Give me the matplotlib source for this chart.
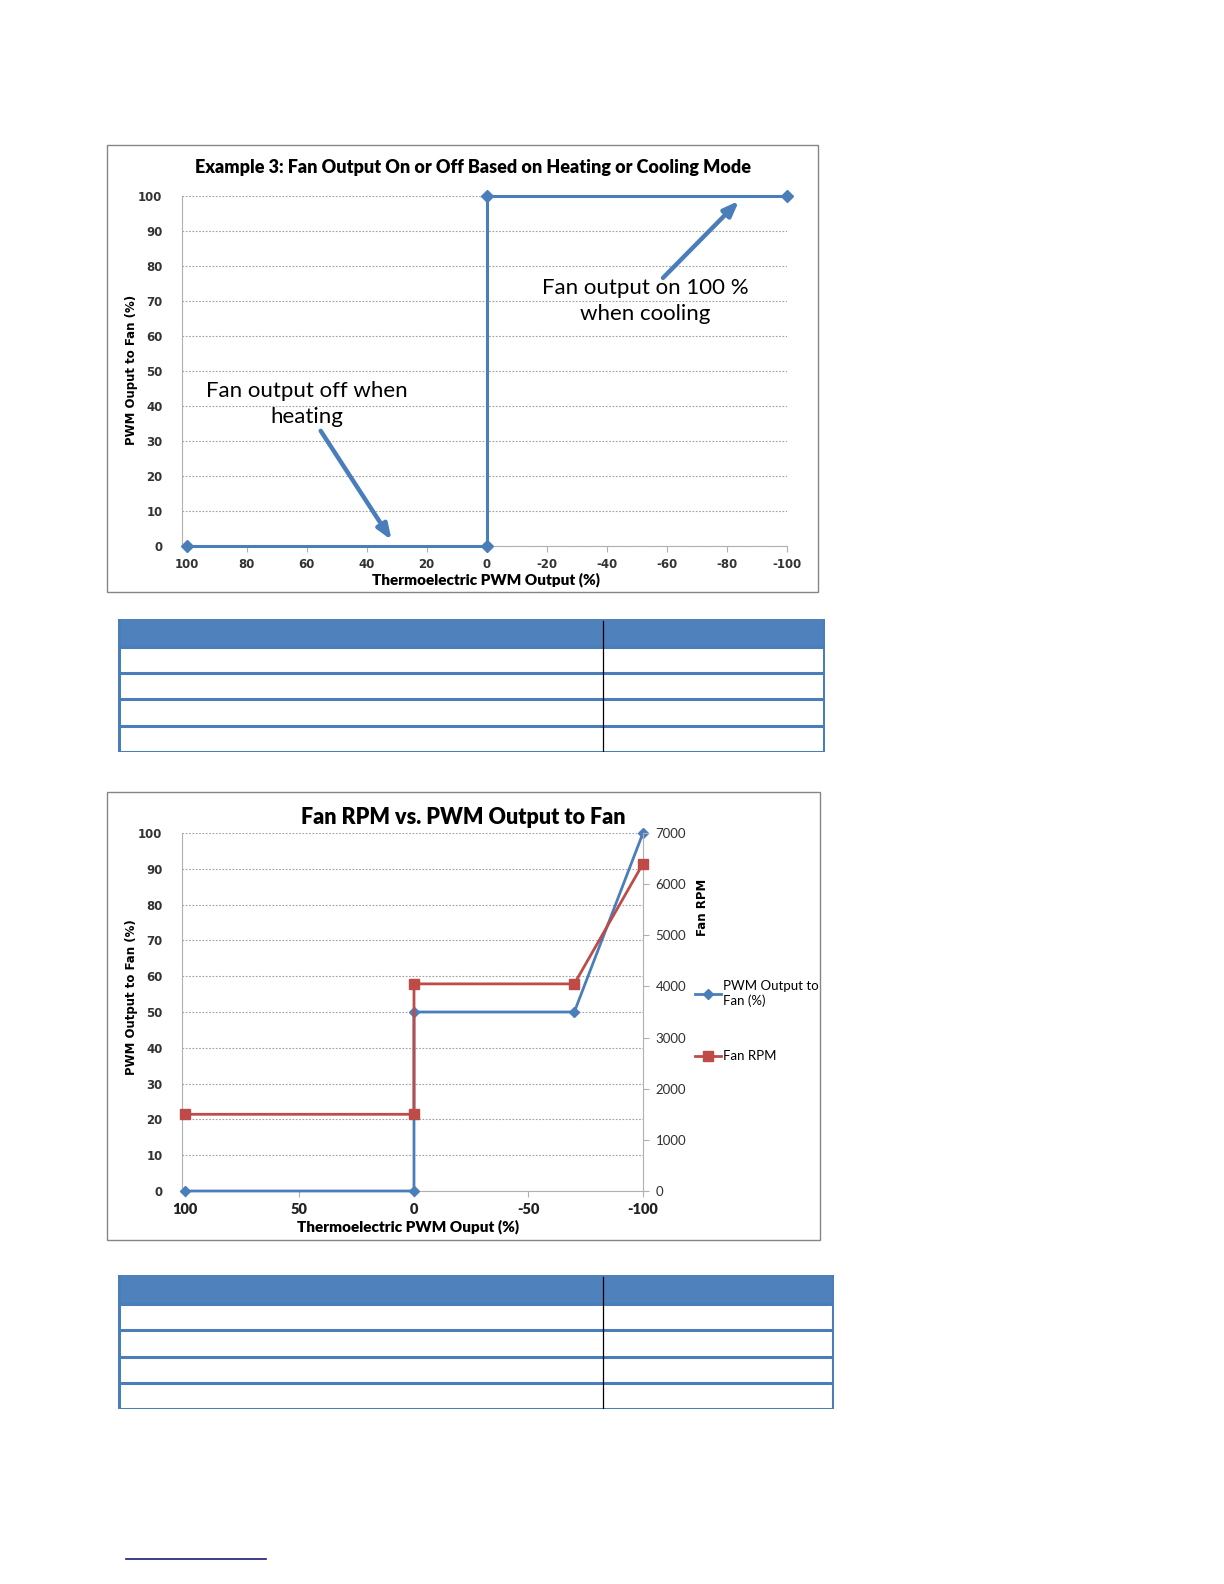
import matplotlib.pyplot as plt
from matplotlib.patches import Rectangle
from matplotlib.font_manager import FontProperties

# Chart 1 data: fan output on/off by mode
te_out_1 = [100, 0, 0, -100]
fan_pwm_1 = [0, 0, 100, 100]
x_ticks_1 = [100, 80, 60, 40, 20, 0, -20, -40, -60, -80, -100]
y_ticks_1 = [0, 10, 20, 30, 40, 50, 60, 70, 80, 90, 100]

# Chart 2 data: fan RPM vs PWM output
te_out_2 = [100, 0, 0, -70, -100]
fan_pwm_2 = [0, 0, 50, 50, 100]
fan_rpm_2 = [1500, 1500, 4050, 4050, 6400]
x_ticks_2 = [100, 50, 0, -50, -100]
rpm_ticks = [0, 1000, 2000, 3000, 4000, 5000, 6000, 7000]

# empty tables under each chart (header + rows)
table_rows = 4

plt.rcParams['axes.unicode_minus'] = False

W, H = 1224, 1584
BLUE = '#4A7EBB'
RED = '#BE4B48'
CAL = ['Lato', 'DejaVu Sans']
VER = ['DejaVu Sans']

fig = plt.figure(figsize=(W / 100, H / 100), dpi=100)


def fbox(x0, y0, x1, y1):
    # pixel box (top-left origin) -> figure fraction rect
    return [x0 / W, 1 - y1 / H, (x1 - x0) / W, (y1 - y0) / H]


def frame(x0, y0, x1, y1):
    r = Rectangle((x0 / W, 1 - y1 / H), (x1 - x0) / W, (y1 - y0) / H,
                  transform=fig.transFigure, fill=False, edgecolor='#868686', lw=1.0)
    fig.add_artist(r)


def style_axes(ax):
    for s in ['top', 'right']:
        ax.spines[s].set_visible(False)
    ax.spines['left'].set_color('#B0B0B0')
    ax.spines['bottom'].set_color('#B0B0B0')
    ax.grid(axis='y', color='#A0A0A0', linestyle=(0, (1.5, 1.5)), linewidth=0.8)
    ax.set_axisbelow(True)


# ---------------- chart 1 ----------------
frame(107, 145, 818, 592)
ax1 = fig.add_axes(fbox(182, 196, 787, 546))
ax1.plot(te_out_1, fan_pwm_1, color=BLUE, lw=2.2, marker='D', ms=6.5, clip_on=False, zorder=3)
ax1.set_xlim(101.5, -100)
ax1.set_ylim(0, 100)
fp1 = FontProperties(family=VER, weight='bold', size=8.5)
ax1.set_xticks(x_ticks_1, labels=[str(t) for t in x_ticks_1], fontproperties=fp1, color='#333333')
ax1.set_yticks(y_ticks_1, labels=[str(t) for t in y_ticks_1], fontproperties=fp1, color='#333333')
style_axes(ax1)
ax1.tick_params(axis='y', length=0, pad=14)
ax1.tick_params(axis='x', length=4, direction='out', color='#B0B0B0', pad=5)

fig.text(473 / W, 1 - 167 / H, 'Example 3: Fan Output On or Off Based on Heating or Cooling Mode',
         ha='center', va='center', fontsize=13, fontweight='heavy', family=CAL)
fig.text(486 / W, 1 - 580 / H, 'Thermoelectric PWM Output (%)', ha='center', va='center',
         fontsize=11, fontweight='heavy', family=CAL)
fig.text(131 / W, 1 - 370 / H, 'PWM Ouput to Fan (%)', ha='center', va='center', rotation=90,
         fontsize=8.5, fontweight='bold', family=VER)

ax1.text(-52.7, 70, 'Fan output on 100 %\nwhen cooling', ha='center', va='center',
         fontsize=16, family=CAL, linespacing=1.4)
ax1.text(60, 40.6, 'Fan output off when\nheating', ha='center', va='center',
         fontsize=16, family=CAL, linespacing=1.4)
arrow = dict(arrowstyle='-|>,head_length=0.9,head_width=0.35', color=BLUE, lw=3.2,
             shrinkA=0, shrinkB=0)
ax1.annotate('', xy=(-84, 98.6), xytext=(-58.7, 76.6), arrowprops=arrow)
ax1.annotate('', xy=(31.7, 1.7), xytext=(55.3, 32.9), arrowprops=arrow)


# ---------------- tables ----------------
def draw_table(x0, y0, x1, y1, header_h, div_x):
    axt = fig.add_axes(fbox(x0, y0, x1, y1))
    axt.set_xlim(x0, x1)
    axt.set_ylim(y1, y0)
    axt.axis('off')
    axt.axhspan(y0, y0 + header_h, color='#4F81BD', zorder=1)
    row_h = (y1 - y0 - header_h) / table_rows
    for i in range(table_rows + 1):
        yy = y0 + header_h + i * row_h
        axt.axhline(yy, color='#4A7EBB', lw=2.2, zorder=2)
    axt.axvline(x0 + 1, color='#4A7EBB', lw=2.2)
    axt.axvline(x1 - 1, color='#4A7EBB', lw=2.2)
    axt.plot([div_x, div_x], [y0 + 2, y1], color='black', lw=0.9, zorder=3)


draw_table(118, 619, 825, 752, 28, 603)

# ---------------- chart 2 ----------------
frame(107, 792, 820, 1240)
ax2 = fig.add_axes(fbox(182, 833, 643, 1191))
ax2.plot(te_out_2, fan_pwm_2, color=BLUE, lw=2, marker='D', ms=5, clip_on=False, zorder=3,
         label='PWM Output to\nFan (%)')
ax2.set_xlim(101.3, -100)
ax2.set_ylim(0, 100)
ax2.set_xticks(x_ticks_2, labels=[str(t) for t in x_ticks_2],
               fontproperties=FontProperties(family=CAL, weight='heavy', size=10.5), color='#222222')
ax2.set_yticks(y_ticks_1, labels=[str(t) for t in y_ticks_1],
               fontproperties=FontProperties(family=VER, weight='bold', size=8.5), color='#333333')
style_axes(ax2)
ax2.tick_params(axis='y', length=0, pad=14)
ax2.tick_params(axis='x', length=4, direction='out', color='#B0B0B0', pad=5)

ax3 = ax2.twinx()
ax3.plot(te_out_2, fan_rpm_2, color=RED, lw=2, marker='s', ms=7, clip_on=False, zorder=3,
         label='Fan RPM')
ax3.set_ylim(0, 7000)
ax3.set_yticks(rpm_ticks, labels=[str(t) for t in rpm_ticks],
               fontproperties=FontProperties(family=CAL, size=9.5), color='#303030')
for s in ['top', 'left', 'bottom']:
    ax3.spines[s].set_visible(False)
ax3.spines['right'].set_color('#B0B0B0')
ax3.tick_params(axis='y', length=4, direction='out', color='#B0B0B0', pad=5)

fig.text(463 / W, 1 - 817 / H, 'Fan RPM vs. PWM Output to Fan', ha='center', va='center',
         fontsize=15.5, fontweight='heavy', family=CAL)
fig.text(408 / W, 1 - 1227 / H, 'Thermoelectric PWM Ouput (%)', ha='center', va='center',
         fontsize=11, fontweight='heavy', family=CAL)
fig.text(132 / W, 1 - 997 / H, 'PWM Output to Fan (%)', ha='center', va='center', rotation=90,
         fontsize=8.5, fontweight='bold', family=VER)
fig.text(703 / W, 1 - 907 / H, 'Fan RPM', ha='center', va='center', rotation=90,
         fontsize=8.5, fontweight='bold', family=VER)

h1, l1 = ax2.get_legend_handles_labels()
h2, l2 = ax3.get_legend_handles_labels()
fig.legend(h1 + h2, l1 + l2, loc='upper left', bbox_to_anchor=(695 / W, 1 - 980 / H),
           frameon=False, prop={'family': CAL, 'size': 9.5}, handlelength=2.0,
           handletextpad=0.15, labelspacing=3.3, borderpad=0, borderaxespad=0)

draw_table(118, 1275, 834, 1409, 29, 603)

# footnote rule
fig.add_artist(plt.Line2D([126 / W, 266 / W], [1 - 1559 / H, 1 - 1559 / H],
                          transform=fig.transFigure, color='#1F1A7A', lw=1.2))

fig.savefig('out.png', dpi=100)
